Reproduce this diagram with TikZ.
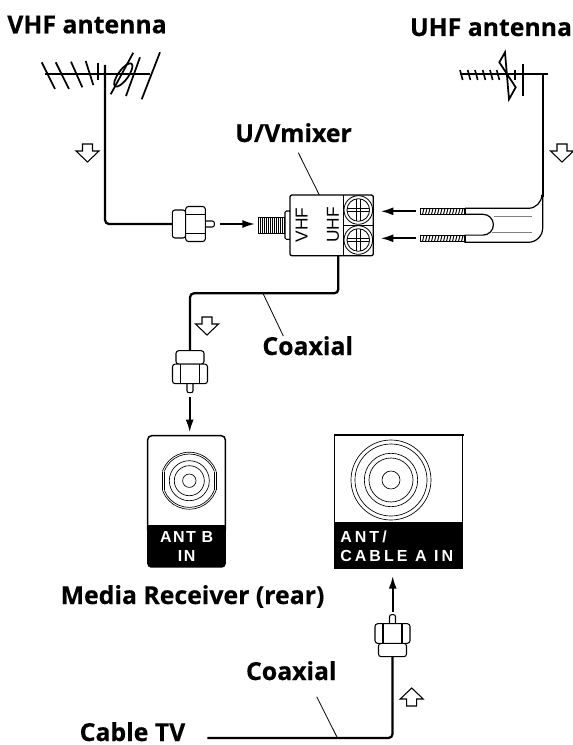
\documentclass[tikz,border=0pt]{standalone}
\usepackage{fontspec}
\setmainfont{Open Sans}[BoldFeatures={FakeBold=0.4}]
\setsansfont{Liberation Sans}
\newfontfamily\platefont[LetterSpace=9]{Liberation Sans}
\newfontfamily\wideplatefont[LetterSpace=19]{Liberation Sans}
\usetikzlibrary{arrows.meta}
\tikzset{
  cable/.style={line width=1.7pt,rounded corners=3pt},
  thinline/.style={line width=0.6pt},
  ringline/.style={line width=0.5pt},
  part/.style={line width=0.8pt,fill=white},
  element/.style={line width=1.3pt},
  flowarrow/.style={line width=1.4pt,-{Latex[length=9.5pt,width=6pt]}},
  title/.style={font=\bfseries\fontsize{18.6}{20}\selectfont,inner sep=0pt,anchor=base},
  plate/.style={font=\platefont\bfseries\fontsize{12}{13}\selectfont,text=white,inner sep=0pt,anchor=base},
  wideplate/.style={font=\wideplatefont\bfseries\fontsize{12}{13}\selectfont,text=white,inner sep=0pt,anchor=base west},
  lettering/.style={rotate=90,font=\sffamily\fontsize{13}{14}\selectfont,inner sep=0pt},
}
% hollow arrow, origin at the middle of its tail
\newcommand{\hollowarrow}[1]{
  \draw[line width=0.8pt,fill=white,#1] (-5,0) -- (5,0) -- (5,7) -- (11.5,7) -- (0,18) -- (-11.5,7) -- (-5,7) -- cycle;
}
% connector, origin where the cable enters, pin pointing along +y
\newcommand{\plugbody}[1]{
  \begin{scope}[#1]
    \draw[part,rounded corners=1.5pt] (-3,30) rectangle (3,42);
    \draw[part,rounded corners=2pt] (-14,0) rectangle (14,13.4);
    \draw[part,rounded corners=2pt] (-17.5,13.4) rectangle (17.5,33);
    \draw[part] (-9.5,13.4) -- (-9.5,33) (9.5,13.4) -- (9.5,33);
  \end{scope}
}
\begin{document}
\begin{tikzpicture}[x=0.75pt,y=-0.75pt]
  \useasboundingbox (0,0) rectangle (573,745);
  % titles
  \node[title] (vhf) at (87,33.3) {VHF antenna};
  \node[title] (uhf) at (491,36) {UHF antenna};
  \node[title] (mixer) at (293.5,142) {U/Vmixer};
  \node[title] (coax1) at (307.7,355) {Coaxial};
  \node[title] (rear) at (192.5,604) {Media Receiver (rear)};
  \node[title] (coax2) at (291.3,680) {Coaxial};
  \node[title] (catv) at (132.5,741) {Cable TV};
  % VHF antenna
  \draw[element] (45,74) -- (150,74);
  \foreach \xa/\ya/\xb/\yb in {41.7/62.3/55/89,55.7/62.3/69/89,71/61.7/82.3/87.3,85.7/61/93.3/85,98.3/63.3/98.3/80,133.3/52.7/110.7/94.3,140/57.3/126/96,160/52.3/141.7/99.3}
    \draw[element] (\xa,\ya) -- (\xb,\yb);
  \draw[element,rotate around={54:(123.3,75)}] (123.3,75) ellipse (14 and 5);
  % UHF antenna
  \draw[element] (460,74) -- (547.7,74);
  \foreach \xa in {460,467.7,475,482.7,490,496.7}
    \draw[line width=1.2pt] (\xa,70) -- (\xa+2.7,80);
  \draw[element] (505,52.3) -- (499.3,62.3) -- (515.7,87.3) -- (509,99.3) -- cycle;
  \draw[element] (515,70) -- (515,80);
  \draw[element] (523.3,64) -- (523.3,96);
  % cable from VHF antenna
  \draw[cable] (105,65) -- (105,224) -- (172.5,224);
  \hollowarrow{shift={(87.5,144)}}
  \plugbody{shift={(172.3,224)},rotate=90}
  \draw[flowarrow] (220,224) -- (255,224);
  % threaded stud
  \draw[part] (258.3,217.3) rectangle (285,233.3);
  \foreach \xa in {260.3,262.3,...,284}
    \draw[line width=0.6pt] (\xa,217.3) -- (\xa,233.3);
  \draw[part,rounded corners=1pt] (285,211) rectangle (291,239.3);
  % mixer box
  \draw[part,line width=1pt,rounded corners=1.5pt] (290,195) rectangle (373.3,255.7);
  \draw[thinline] (343.3,195) -- (343.3,255.7) (343.3,225) -- (373.3,225);
  \node[lettering] (vlab) at (301.7,225) {VHF};
  \node[lettering] (ulab) at (333,225) {UHF};
  \foreach \ya in {210,240} {
    \draw[thinline] (358.3,\ya) circle (14.3);
    \draw[thinline] (358.3,\ya) circle (11.3);
    \draw[line width=0.5pt] (356.5,\ya-11) -- (356.5,\ya+11) (360,\ya-11) -- (360,\ya+11);
    \draw[line width=0.5pt] (347.3,\ya-1.7) -- (369.3,\ya-1.7) (347.3,\ya+1.7) -- (369.3,\ya+1.7);
  }
  \draw[thinline] (298.3,152.7) -- (319.3,195);
  % feed to the UHF terminals
  \draw[flowarrow] (416,211.3) -- (380.7,211.3);
  \draw[flowarrow] (416,238.3) -- (380.7,238.3);
  \foreach \ya in {211.3,238.3} {
    \draw[part] (420.5,\ya-3) rectangle (465,\ya+3);
    \foreach \xa in {422.5,425.5,...,463}
      \draw[line width=0.7pt] (\xa,\ya+3) -- (\xa+1.5,\ya-3);
  }
  % UHF flat cable
  \draw[line width=1.4pt] (542.7,74) -- (542.7,197);
  \draw[line width=0.9pt] (465,208.3) -- (528.3,208.3) arc[start angle=90,end angle=0,radius=13.5];
  \draw[line width=0.9pt] (465,208.3) -- (465,214.3) -- (483,214.3) arc[start angle=-90,end angle=90,radius=10.4] -- (465,235.1) -- (465,242.3) -- (528.3,242.3) arc[start angle=90,end angle=0,radius=14.4] -- (542.7,197);
  \draw[line width=0.5pt,gray] (494,216) -- (532,216) (491.7,232.7) -- (532.3,232.7);
  \hollowarrow{shift={(562,144)}}
  % coaxial from mixer to receiver
  \draw[cable] (338.3,255.7) -- (338.3,293.3) -- (190,293.3) -- (190,351);
  \hollowarrow{shift={(207,317)}}
  \draw[thinline] (263.3,294) -- (283.3,336);
  \plugbody{shift={(190,350.7)}}
  \draw[flowarrow] (189.7,397) -- (189.7,432.3);
  % ANT B panel
  \draw[line width=1.1pt,fill=white,rounded corners=3pt] (147.7,530) -- (147.7,435.7) -- (225.3,435.7) -- (225.3,530);
  \fill[black,rounded corners=3pt] (147.2,525) rectangle (225.8,567.7);
  \fill[black] (147.2,525) rectangle (225.8,532);
  \node[plate] (antb) at (186.7,542.3) {ANT B};
  \node[plate] (antbin) at (186.7,561.5) {IN};
  \begin{scope}[shift={(189.3,480.7)}]
    \begin{scope}
      \clip (-27,-40) rectangle (27,40);
      \draw[ringline] (0,0) circle (28.5);
    \end{scope}
    \begin{scope}
      \clip (-25,-40) rectangle (25,40);
      \draw[ringline] (0,0) circle (26.7);
    \end{scope}
    \draw[ringline] (-27,-9) -- (-27,9) (27,-9) -- (27,9) (-25,-9) -- (-25,9) (25,-9) -- (25,9);
    \foreach \ra in {6.7,15,20}
      \draw[ringline] (0,0) circle (\ra);
  \end{scope}
  % ANT/CABLE A panel
  \draw[line width=0.8pt] (334.3,435) -- (334.3,523) (462.7,435) -- (462.7,523);
  \draw[line width=1.8pt] (334,435) -- (464,435);
  \fill[black] (334,522.3) rectangle (463,569);
  \node[wideplate] (anta) at (340,542.3) {ANT/};
  \node[wideplate] (cablea) at (340,561) {CABLE A IN};
  \foreach \ra in {9,22,26.7,36,40}
    \draw[ringline] (391,480) circle (\ra);
  % coaxial from cable TV
  \draw[cable] (207.3,738) -- (392.5,738) -- (392.5,656);
  \draw[thinline] (316.7,696.7) -- (337.3,737.7);
  \hollowarrow{shift={(411.7,706)},yscale=-1}
  \plugbody{shift={(392.5,656.7)},yscale=-1}
  \draw[flowarrow] (392.7,611.7) -- (392.7,576);
\end{tikzpicture}
\end{document}
